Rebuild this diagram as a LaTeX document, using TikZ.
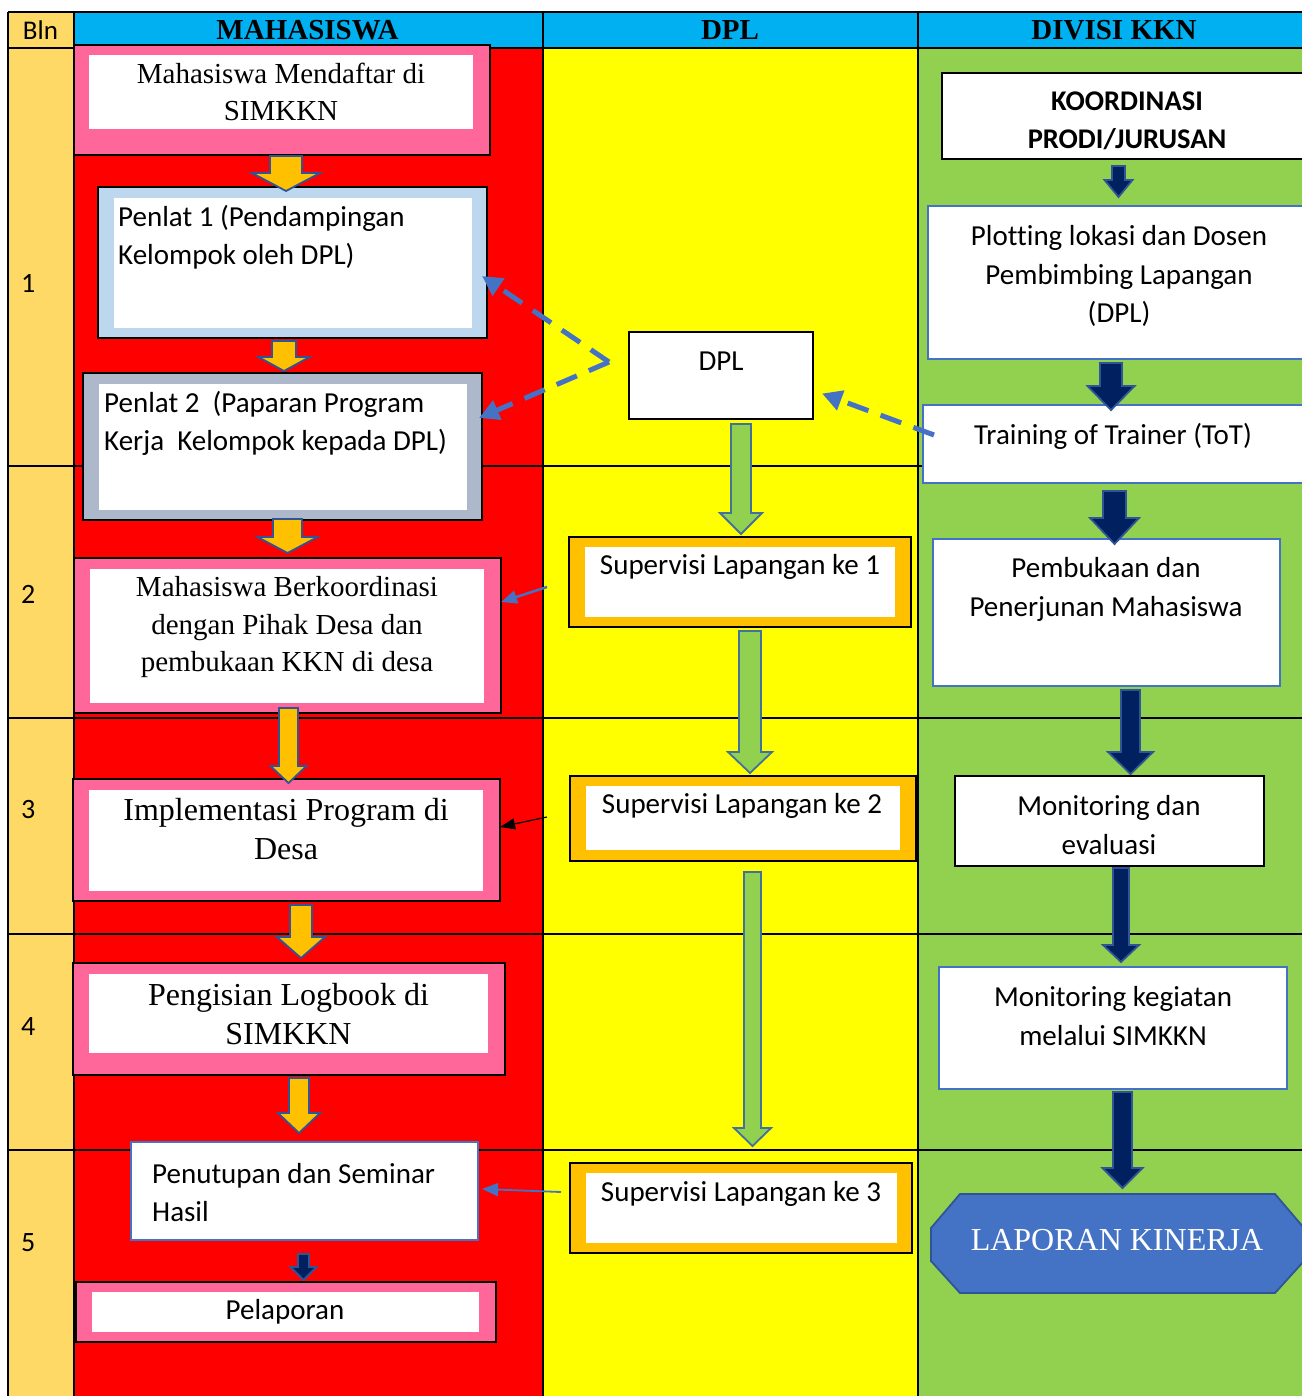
\documentclass[tikz,border=0pt]{standalone}
\usepackage{fontspec}
\setmainfont{Liberation Serif}
\newfontfamily\calfont[Ligatures={NoCommon}]{Carlito}
\usetikzlibrary{arrows.meta}
\definecolor{pinkc}{HTML}{FF6699}
\definecolor{redc}{HTML}{FF0000}
\definecolor{yelc}{HTML}{FFFF00}
\definecolor{grnc}{HTML}{92D050}
\definecolor{cyanc}{HTML}{00B0F0}
\definecolor{blnc}{HTML}{FFD966}
\definecolor{lbluec}{HTML}{BDD7EE}
\definecolor{gbluec}{HTML}{ADB9CA}
\definecolor{orgc}{HTML}{FFC000}
\definecolor{navyc}{HTML}{002060}
\definecolor{bluec}{HTML}{4472C4}
\definecolor{edgec}{HTML}{2F5597}
\definecolor{gedgec}{HTML}{41719C}
\newcommand\blkarrow[8]{\filldraw[fill=#1,draw=#2,line width=1.8pt,line join=miter] ({#3-#4},#6) -- ({#3+#4},#6) -- ({#3+#4},#7) -- ({#3+#5},#7) -- (#3,#8) -- ({#3-#5},#7) -- ({#3-#4},#7) -- cycle;}
\tikzset{
  obox/.style={draw=black, line width=1.5pt, anchor=north west, inner sep=0pt, outer sep=0pt},
  bbox/.style={draw=bluec, line width=2.5pt, fill=white, anchor=north west, inner sep=0pt, outer sep=0pt},
  kbox/.style={draw=black, line width=1.5pt, fill=white, anchor=north west, inner sep=0pt, outer sep=0pt},
  tser/.style={font=\fontsize{29}{37.5}\selectfont, align=center, inner sep=0pt},
  tserL/.style={font=\fontsize{32}{38.5}\selectfont, align=center, inner sep=0pt},
  tsans/.style={font=\calfont\fontsize{29}{38.5}\selectfont, align=center, inner sep=0pt},
  tsansL/.style={tsans, align=left, anchor=west},
  hdr/.style={font=\fontsize{29}{34}\selectfont\bfseries, inner sep=0pt},
  rownum/.style={font=\calfont\fontsize{28}{34}\selectfont, inner sep=0pt, anchor=west},
  dasharrow/.style={draw=bluec, line width=5pt, dash pattern=on 22pt off 13pt, -{Triangle[length=20pt,width=20pt]}},
  thinarrow/.style={draw=bluec, line width=2.5pt, -{Triangle[length=16pt,width=13pt]}},
  gridline/.style={line width=2pt, draw=black},
}
\begin{document}
\begin{tikzpicture}[x=1pt,y=-1pt]
\useasboundingbox (0,0) rectangle (1301,1396);
\fill[white] (0,0) rectangle (1301,1396);
% column backgrounds
\fill[blnc] (8,12) rectangle (74,1396);
\fill[cyanc] (74,12) rectangle (1310,48);
\fill[redc] (74,48) rectangle (543,1396);
\fill[yelc] (543,48) rectangle (918,1396);
\fill[grnc] (918,48) rectangle (1310,1396);
% grid
\foreach \yy in {12,48,466,718,934,1150} \draw[gridline] (8,\yy) -- (1310,\yy);
\foreach \xx in {8,74,543,918} \draw[gridline] (\xx,12) -- (\xx,1400);
% headers
\node[font=\calfont\fontsize{27}{32}\selectfont, inner sep=0pt] (hbln) at (40.5,30) {Bln};
\node[hdr] (hmhs) at (307.5,30) {MAHASISWA};
\node[hdr] (hdpl) at (730,30) {DPL};
\node[hdr] (hdiv) at (1114,30) {DIVISI KKN};
% row numbers
\node[rownum] (r1) at (21,283) {1};
\node[rownum] (r2) at (21,594) {2};
\node[rownum] (r3) at (21,810) {3};
\node[rownum] (r4) at (21,1026) {4};
\node[rownum] (r5) at (21,1243) {5};

% ---- MAHASISWA column
\node[obox, fill=pinkc, minimum width=416pt, minimum height=110pt] (m1) at (74,45) {};
\fill[white] (89,55) rectangle (473,129);
\node[tser] (m1t) at (281,92) {Mahasiswa Mendaftar di\\SIMKKN};

\node[obox, fill=lbluec, minimum width=389pt, minimum height=151pt] (p1) at (98,187) {};
\fill[white] (114,198) rectangle (472,328);
\node[tsansL] (p1t) at (118,237) {Penlat 1 (Pendampingan\\Kelompok oleh DPL)};

\node[obox, fill=gbluec, minimum width=399pt, minimum height=147pt] (p2) at (83,373) {};
\fill[white] (99,384) rectangle (467,510);
\node[tsansL] (p2t) at (104,423.5) {Penlat 2\ \ (Paparan Program\\Kerja\ \ Kelompok kepada DPL)};

\node[obox, fill=pinkc, minimum width=427pt, minimum height=155pt] (m2) at (74,558) {};
\fill[white] (90,569) rectangle (484,703);
\node[tser] (m2t) at (287,627.5) {Mahasiswa Berkoordinasi\\dengan Pihak Desa dan\\pembukaan KKN di desa};

\node[obox, fill=pinkc, minimum width=427pt, minimum height=122pt] (m3) at (73,779) {};
\fill[white] (89,790) rectangle (483,891);
\node[tserL] (m3t) at (286,829) {Implementasi Program di\\Desa};

\node[obox, fill=pinkc, minimum width=432pt, minimum height=112pt] (m4) at (73,963) {};
\fill[white] (89,974) rectangle (488,1053);
\node[tserL] (m4t) at (288.5,1014) {Pengisian Logbook di\\SIMKKN};

\node[bbox, minimum width=347pt, minimum height=98pt] (m5) at (131,1142) {};
\node[tsansL] (m5t) at (152,1192.5) {Penutupan dan Seminar\\Hasil};

\node[obox, fill=pinkc, minimum width=420pt, minimum height=60pt] (m6) at (76,1282) {};
\fill[white] (92,1292) rectangle (479,1332);
\node[tsans] (m6t) at (285,1312) {Pelaporan};

% ---- DPL column
\node[kbox, minimum width=184pt, minimum height=87pt] (dpl) at (629,332) {};
\node[tsans] (dplt) at (721,361) {DPL};

\node[obox, fill=orgc, minimum width=342pt, minimum height=90pt] (s1) at (569,537) {};
\fill[white] (585,547) rectangle (895,617);
\node[tsans] (s1t) at (740,567) {Supervisi Lapangan ke 1};

\node[obox, fill=orgc, minimum width=346pt, minimum height=85pt] (s2) at (570,776) {};
\fill[white] (586,786) rectangle (900,850);
\node[tsans] (s2t) at (742,806) {Supervisi Lapangan ke 2};

\node[obox, fill=orgc, minimum width=342pt, minimum height=90pt] (s3) at (570,1163) {};
\fill[white] (586,1173) rectangle (897,1243);
\node[tsans] (s3t) at (741,1194) {Supervisi Lapangan ke 3};

% ---- DIVISI KKN column
\node[kbox, minimum width=378pt, minimum height=86pt] (k1) at (942,73) {};
\node[tsans, font=\calfont\bfseries\fontsize{28.5}{38.5}\selectfont] (k1t) at (1127,121) {KOORDINASI\\PRODI/JURUSAN};

\node[bbox, minimum width=387pt, minimum height=153pt] (k2) at (928,206) {};
\node[tsans] (k2t) at (1119,276) {Plotting lokasi dan Dosen\\Pembimbing Lapangan\\(DPL)};

\node[bbox, minimum width=392pt, minimum height=78pt] (k3) at (923,405) {};
\node[tsans] (k3t) at (1113,436) {Training of Trainer (ToT)};

\node[bbox, minimum width=347pt, minimum height=147pt] (k4) at (933,539) {};
\node[tsans] (k4t) at (1106,589.5) {Pembukaan dan\\Penerjunan Mahasiswa};

\node[kbox, minimum width=309pt, minimum height=90pt] (k5) at (955,776) {};
\node[tsans] (k5t) at (1109,825) {Monitoring dan\\evaluasi};

\node[bbox, minimum width=348pt, minimum height=122pt] (k6) at (939,967) {};
\node[tsans] (k6t) at (1113,1016) {Monitoring kegiatan\\melalui SIMKKN};

\filldraw[fill=bluec, draw=edgec, line width=1.8pt] (960,1194) -- (1275,1194) -- (1304,1228) -- (1304,1261) -- (1275,1293) -- (960,1293) -- (931,1261) -- (931,1228) -- cycle;
\node[tserL, text=white] (k7) at (1117,1240) {LAPORAN KINERJA};

% ---- block arrows
\blkarrow{orgc}{edgec}{286}{16}{34}{156}{173}{191}
\blkarrow{orgc}{edgec}{284}{12}{25.5}{341}{357}{371}
\blkarrow{orgc}{edgec}{287.5}{14.5}{30}{519}{537}{553}
\blkarrow{orgc}{edgec}{288.5}{9.5}{18}{708}{766}{783}
\blkarrow{orgc}{edgec}{301}{11}{24}{905}{937}{958}
\blkarrow{orgc}{edgec}{299}{10}{21}{1078}{1113}{1133}
\blkarrow{navyc}{edgec}{303.5}{5.5}{13}{1254}{1267}{1280}

\blkarrow{grnc}{gedgec}{741}{10}{21}{424}{513}{534}
\blkarrow{grnc}{gedgec}{750}{11}{22}{631}{752}{773}
\blkarrow{grnc}{gedgec}{752.5}{8.5}{18.5}{872}{1128}{1146}

\blkarrow{navyc}{edgec}{1118.5}{6.5}{14}{166}{180}{197}
\blkarrow{navyc}{edgec}{1111}{11}{23.5}{363}{386}{410}
\blkarrow{navyc}{edgec}{1114.5}{11.5}{24.5}{491}{518}{544}
\blkarrow{navyc}{edgec}{1130.5}{9.5}{22.5}{690}{752}{774}
\blkarrow{navyc}{edgec}{1121}{8}{18}{868}{945}{962}
\blkarrow{navyc}{edgec}{1122.5}{9.5}{20}{1092}{1168}{1188}

% ---- dashed and thin connectors
\coordinate (dj) at (609,362);
\coordinate (totL) at (934,435);
\coordinate (c1) at (547,587);
\coordinate (c2) at (547,817);
\coordinate (c3) at (561,1192);
\draw[dasharrow] (dj) -- ([xshift=-5pt,yshift=-13.5pt]p1.east);
\draw[dasharrow] (dj) -- ([xshift=-3pt,yshift=28.5pt]p2.east);
\draw[dasharrow] (totL) -- ([xshift=9pt,yshift=-18pt]dpl.east);
\draw[thinarrow] (c1) -- ([yshift=33.5pt]m2.east);
\draw[draw=black, line width=1.2pt, -{Triangle[length=15pt,width=11pt]}] (c2) -- ([yshift=13pt]m3.east);
\draw[thinarrow, line width=1.8pt] (c3) -- ([xshift=4pt,yshift=2pt]m5.east);
\end{tikzpicture}
\end{document}
